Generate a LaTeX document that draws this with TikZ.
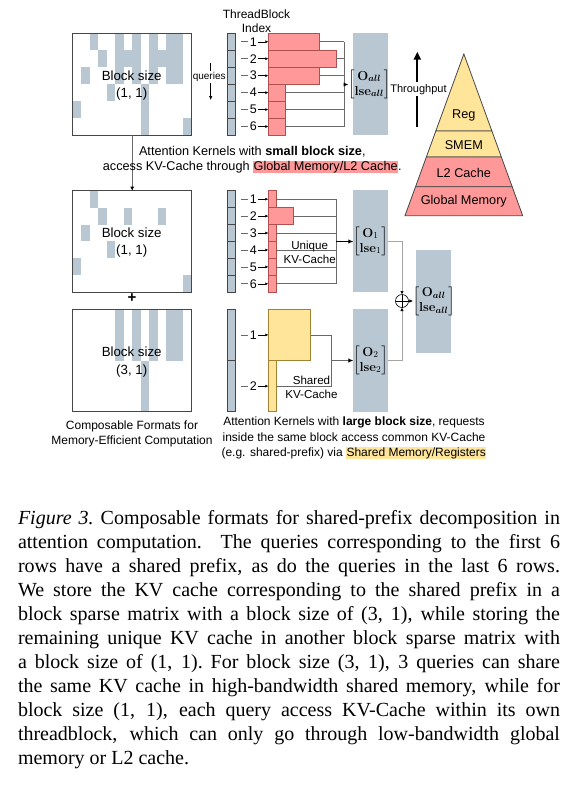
\documentclass[tikz,border=0pt]{standalone}
\usepackage{fix-cm}
\usepackage{amsmath}
\usepackage[no-math]{fontspec}
\setmainfont{Liberation Sans}
\newfontfamily\capfont{Liberation Serif}
\usetikzlibrary{arrows.meta,calc}
\definecolor{blk}{RGB}{185,199,211}
\definecolor{redf}{RGB}{255,153,153}
\definecolor{redd}{RGB}{175,80,80}
\definecolor{yelf}{RGB}{255,229,153}
\definecolor{yeld}{RGB}{160,130,50}
\definecolor{conng}{RGB}{105,105,105}
\definecolor{lightc}{RGB}{165,165,165}
\definecolor{edge}{RGB}{70,70,70}
\newcommand\fsz[2]{\fontsize{#1}{#2}\selectfont}
\newcommand\hlt[2]{{\setlength\fboxsep{0.5pt}\colorbox{#1}{#2}}}
\newcommand\Mx[2]{$\left[\begin{matrix}\mathbf{O}_{#1}\\ \mathbf{lse}_{#2}\end{matrix}\right]$}
\newcommand\capline[1]{\makebox[542pt][s]{#1}}
\tikzset{
  every node/.style={inner sep=0pt,outer sep=0pt},
  qcell/.style={draw=edge,fill=blk,line width=0.7pt,minimum width=7.7pt},
  rbar/.style={draw=redd,fill=redf,line width=0.7pt,anchor=west},
  ybar/.style={draw=yeld,fill=yelf,line width=0.7pt,anchor=west},
  ocol/.style={fill=blk,minimum width=34.4pt},
  mbox/.style={draw=edge,line width=0.8pt,anchor=north west,minimum width=119pt},
  num/.style={font=\fsz{12.5}{14},inner xsep=1.6pt},
  conn/.style={draw=conng,line width=0.75pt},
  qtick/.style={draw=conng,line width=0.75pt},
  small arrow/.style={draw=black,line width=0.5pt,-{Latex[length=3pt,width=3pt]}},
  mtx/.style={font=\fsz{13}{15}},
  bsz/.style={align=center,font=\fsz{13.3}{17.3}},
  capl/.style={anchor=base west,font=\capfont\fsz{20}{24}},
}
\begin{document}
\begin{tikzpicture}[x=1pt,y=-1pt]
\useasboundingbox (0,0) rectangle (577,785);
% ---------- block sparse matrices ----------
\foreach \c/\a/\b in {2/0/0,3/1/1,1/2/2,4/3/3,5/0/2,6/1/1,7/0/2,8/3/5,9/0/2,10/1/1,11/0/2,12/0/2,0/4/4,13/5/5}
  \fill[blk] ({72.7+8.5*\c},{33+17*\a}) rectangle ({72.7+8.5*(\c+1)},{33+17*(\b+1)});
\node[mbox,minimum height=102pt] (tbox) at (72.7,33) {};
\node[bsz] (tlab) at (131.7,85.7) {Block size\\(1, 1)};

\foreach \c/\a/\b in {2/0/0,3/1/1,6/1/1,10/1/1,1/2/2,4/3/3,0/4/4,13/5/5}
  \fill[blk] ({72.7+8.5*\c},{190.7+16.93*\a}) rectangle ({72.7+8.5*(\c+1)},{190.7+16.93*(\b+1)});
\node[mbox,minimum height=101.6pt] (ubox) at (72.7,190.7) {};
\node[bsz] (ulab) at (131.7,242.3) {Block size\\(1, 1)};

\foreach \c/\a/\b in {5/0/2,7/0/2,9/0/2,11/0/2,12/0/2,8/3/5}
  \fill[blk] ({72.7+8.5*\c},{309.3+17.07*\a}) rectangle ({72.7+8.5*(\c+1)},{309.3+17.07*(\b+1)});
\node[mbox,minimum height=102.4pt] (sbox) at (72.7,309.3) {};
\node[bsz] (slab) at (131.7,362) {Block size\\(3, 1)};

\draw[draw=conng,line width=0.9pt,-{Latex[length=4pt,width=4pt,color=black]}] (tbox.south) -- (ubox.north);
\node[font=\fsz{15}{15}\bfseries] (plus) at (132,298) {+};

% ---------- queries arrow & header ----------
\coordinate (qa) at (210.7,63);
\coordinate (qb) at (210.7,100);
\draw[black,line width=0.6pt,-{Latex[length=4pt,width=3.5pt]}] (qa) -- (qb);
\node[fill=white,inner xsep=0.3pt,inner ysep=1.5pt,font=\fsz{10}{10}] (ql) at (209.2,76.7) {queries};
\node[align=center,font=\fsz{12}{14.3}] (tbi) at (256.5,21.2) {ThreadBlock\\Index};

% ---------- top kernels ----------
\node[ocol,minimum height=101.7pt] (tcol) at (370.5,84.15) {};
\foreach \i/\w in {1/6,2/8,3/6,4/2,5/2,6/2}{
  \pgfmathsetmacro\yy{33.3+16.95*(\i-0.5)}
  \node[qcell,minimum height=16.95pt] (tq\i) at (231.15,\yy) {};
  \node[num] (tn\i) at (253.3,\yy) {\i};
  \node[rbar,minimum width=8.45*\w,minimum height=16.95pt] (tb\i) at (268.3,\yy) {};
  \coordinate (tc\i) at (344,\yy);
  \draw[qtick] ([xshift=5.5pt]tq\i.east) -- (tn\i.west);
  \draw[small arrow] (tn\i.east) -- (tb\i.west);
  \draw[conn] (tb\i.east) -- (tc\i);
}
\draw[conn] (tc1) -- (tc6);
\node[mtx] (tm) at (369.2,84.5) {\Mx{\boldsymbol{all}}{\boldsymbol{all}}};
\draw[black,line width=0.7pt,-{Latex[length=4.5pt,width=4pt]}] (tc1 |- tm) -- (tm.west);

% ---------- middle kernels ----------
\node[ocol,minimum height=102.3pt] (ucol) at (370.5,241.15) {};
\foreach \i/\w in {1/1,2/3,3/1,4/1,5/1,6/1}{
  \pgfmathsetmacro\yy{190.7+16.93*(\i-0.5)}
  \node[qcell,minimum height=16.93pt] (uq\i) at (231.15,\yy) {};
  \node[num] (un\i) at (253.3,\yy) {\i};
  \node[rbar,minimum width=8.45*\w,minimum height=16.93pt] (ub\i) at (268.3,\yy) {};
  \coordinate (uc\i) at (336,\yy);
  \draw[qtick] ([xshift=5.5pt]uq\i.east) -- (un\i.west);
  \draw[small arrow] (un\i.east) -- (ub\i.west);
  \draw[conn] (ub\i.east) -- (uc\i);
}
\draw[conn] (uc1) -- (uc6);
\node[mtx] (um) at (370.5,241.5) {\Mx{1}{1}};
\draw[black,line width=1.2pt,-{Latex[length=5pt,width=4.5pt]}] (uc1 |- um) -- (um.west);
\node[align=center,font=\fsz{11.6}{13.3}] (ulbl) at (309.7,252.3) {Unique\\KV-Cache};

% ---------- bottom kernels ----------
\node[ocol,minimum height=102.4pt] (scol) at (370.5,360.5) {};
\foreach \i/\w in {1/5,2/1}{
  \pgfmathsetmacro\yy{309.3+51.2*(\i-0.5)}
  \node[qcell,minimum height=51.2pt] (sq\i) at (231.15,\yy) {};
  \node[num] (sn\i) at (253.3,\yy) {\i};
  \node[ybar,minimum width=8.45*\w,minimum height=51.2pt] (sb\i) at (268.3,\yy) {};
  \coordinate (sc\i) at (331.7,\yy);
  \draw[qtick] ([xshift=5.5pt]sq\i.east) -- (sn\i.west);
  \draw[small arrow] (sn\i.east) -- (sb\i.west);
  \draw[conn] (sb\i.east) -- (sc\i);
}
\draw[conn] (sc1) -- (sc2);
\node[mtx] (sm) at (370.5,360.5) {\Mx{2}{2}};
\draw[conng,line width=1.6pt,-{Latex[length=5pt,width=4.5pt,color=black]}] (sc1 |- sm) -- (sm.west);
\node[align=center,font=\fsz{11.6}{13.3}] (slbl) at (311.5,387.2) {Shared\\KV-Cache};

% ---------- combination ----------
\node[ocol,minimum width=35pt,minimum height=102.7pt] (fcol) at (433.5,301.35) {};
\node[circle,draw=black,line width=0.6pt,minimum size=13pt] (op) at (402,301) {};
\draw[black,line width=0.5pt] (op.north) -- (op.south) (op.west) -- (op.east);
\node[mtx] (fm) at (433.8,301) {\Mx{\boldsymbol{all}}{\boldsymbol{all}}};
\draw[lightc,line width=1pt,-{Latex[length=3.5pt,width=3.5pt,color=black]}] (ucol.east |- um) -| (op.north);
\draw[lightc,line width=1pt,-{Latex[length=3.5pt,width=3.5pt,color=black]}] (scol.east |- sm) -| (op.south);
\draw[black,line width=0.6pt,-{Latex[length=3.5pt,width=3.5pt]}] (op.east) -- (fm.west);

% ---------- memory pyramid ----------
\coordinate (apex) at (463.85,54);
\coordinate (bl) at (405,215.7);
\coordinate (br) at (522.7,215.7);
\coordinate (l1) at ($(apex)!0.4762!(bl)$);
\coordinate (r1) at ($(apex)!0.4762!(br)$);
\coordinate (l2) at ($(apex)!0.637!(bl)$);
\coordinate (r2) at ($(apex)!0.637!(br)$);
\coordinate (l3) at ($(apex)!0.8207!(bl)$);
\coordinate (r3) at ($(apex)!0.8207!(br)$);
\filldraw[fill=yelf,draw=edge,line width=0.8pt] (apex) -- (l1) -- (r1) -- cycle;
\filldraw[fill=yelf,draw=edge,line width=0.8pt] (l1) -- (l2) -- (r2) -- (r1) -- cycle;
\filldraw[fill=redf,draw=edge,line width=0.8pt] (l2) -- (l3) -- (r3) -- (r2) -- cycle;
\filldraw[fill=redf,draw=edge,line width=0.8pt] (l3) -- (bl) -- (br) -- (r3) -- cycle;
\node[font=\fsz{12.7}{12.7}] (preg) at (463.8,115) {Reg};
\node[font=\fsz{12.7}{12.7}] (psm) at (463.8,145) {SMEM};
\node[font=\fsz{12.7}{12.7}] (pl2) at (463.8,172.7) {L2 Cache};
\node[font=\fsz{12.7}{12.7}] (pgm) at (463.8,201.7) {Global Memory};

\coordinate (thb) at (417.3,126.7);
\coordinate (tht) at (417.3,51.7);
\draw[black,line width=2pt,-{Triangle[length=8pt,width=7pt]}] (thb) -- (tht);
\node[fill=white,inner xsep=0.5pt,inner ysep=2pt,font=\fsz{11}{11}] (thl) at (418.5,89.3) {Throughput};

% ---------- diagram texts ----------
\node[align=center,font=\fsz{12.7}{15}] (ttext) at (252.3,159.8) {Attention Kernels with \textbf{small block size},\\access KV-Cache through \hlt{redf}{Global Memory/L2 Cache}.};
\node[align=center,font=\fsz{12}{15}] (ltext) at (132,434.2) {Composable Formats for\\Memory-Efficient Computation};
\node[align=center,font=\fsz{12}{15.2}] (rtext) at (354,438.3) {Attention Kernels with \textbf{large block size}, requests\\inside the same block access common KV-Cache\\(e.g. shared-prefix) via \hlt{yelf}{Shared Memory/Registers}};

% ---------- caption ----------
\node[capl] (c1) at (18,524.3) {\capline{\textit{Figure 3.}\ Composable formats for shared-prefix decomposition in}};
\node[capl] (c2) at (18,548.3) {\capline{attention computation.  The queries corresponding to the first 6}};
\node[capl] (c3) at (18,572.3) {\capline{rows have a shared prefix, as do the queries in the last 6 rows.}};
\node[capl] (c4) at (18,596.3) {\capline{We store the KV cache corresponding to the shared prefix in a}};
\node[capl] (c5) at (18,620.3) {\capline{block sparse matrix with a block size of (3, 1), while storing the}};
\node[capl] (c6) at (18,644.3) {\capline{remaining unique KV cache in another block sparse matrix with}};
\node[capl] (c7) at (18,668.3) {\capline{a block size of (1, 1).\ For block size (3, 1), 3 queries can share}};
\node[capl] (c8) at (18,692.3) {\capline{the same KV cache in high-bandwidth shared memory, while for}};
\node[capl] (c9) at (18,716.3) {\capline{block size (1, 1), each query access KV-Cache within its own}};
\node[capl] (c10) at (18,740.3) {\capline{threadblock, which can only go through low-bandwidth global}};
\node[capl] (c11) at (18,764.3) {memory or L2 cache.};
\end{tikzpicture}
\end{document}
